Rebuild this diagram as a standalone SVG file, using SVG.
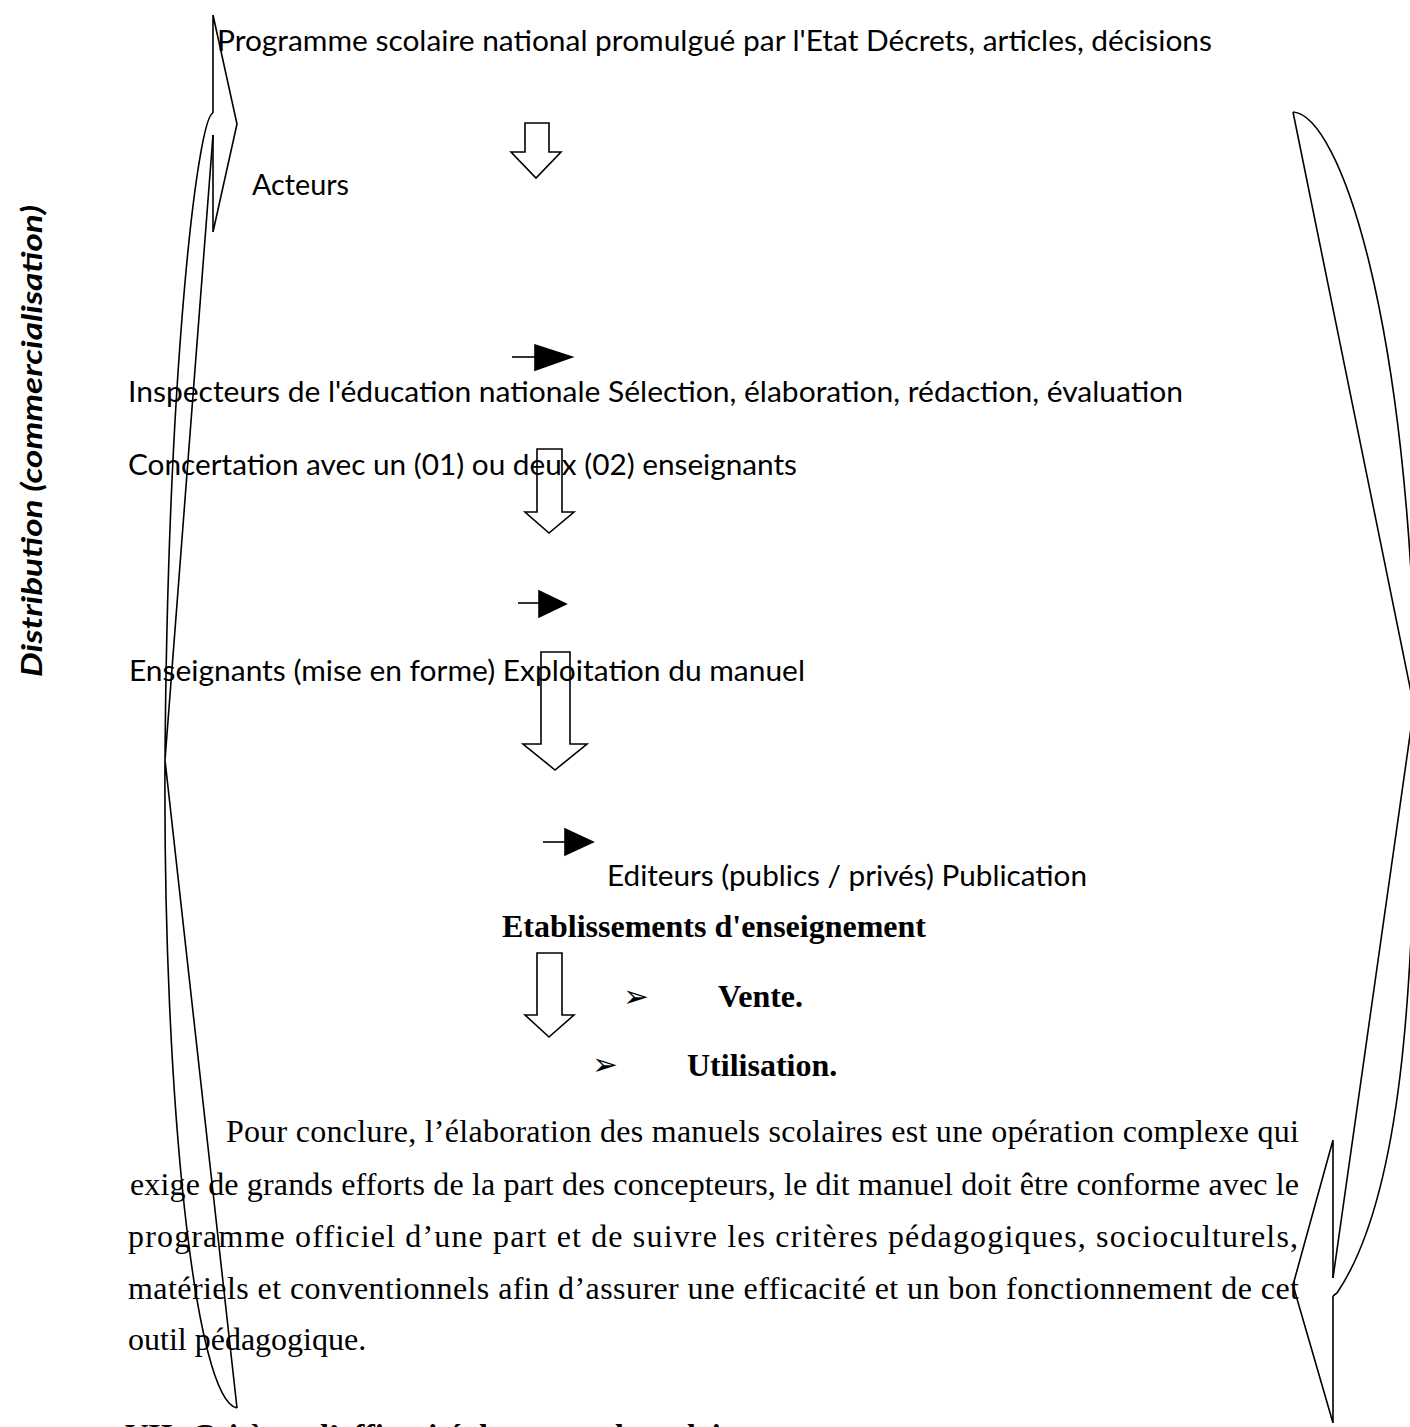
<svg xmlns="http://www.w3.org/2000/svg" width="1410" height="1427" viewBox="0 0 1410 1427">
<style>
.s{font-family:Lato,"Open Sans","Liberation Sans",sans-serif;font-size:28px;fill:#000}
.t{font-family:"Liberation Serif","Times New Roman",serif;font-size:32px;fill:#000}
.tb{font-family:"Liberation Serif","Times New Roman",serif;font-size:32px;font-weight:bold;fill:#000}
.bul{font-family:"DejaVu Sans",sans-serif;font-size:31px;fill:#000}
.ln{fill:none;stroke:#000;stroke-width:1.6;stroke-linejoin:miter}
.blk{fill:none;stroke:#000;stroke-width:1.6}
.sm{fill:#000;stroke:#000;stroke-width:1.6}
</style>
<rect width="1410" height="1427" fill="#fff"/>
<g id="braces">
<path class="ln" d="M213,15 L237,124 L213,232 M213,15 L213,113 M213,135 L213,232"/>
<path class="ln" d="M213,113 C198,117 168,360 165,760 C163,1100 195,1400 237,1408 M213,135 L165,760 L237,1408"/>
<path class="ln" d="M1293,112 L1414,707 L1333,1278 M1293,112 C1340,115 1410,320 1416,707 C1416,1000 1400,1200 1337,1293 L1333,1296"/>
<path class="ln" d="M1333,1140 L1293,1285 L1333,1423 M1333,1140 L1333,1278 M1333,1296 L1333,1423"/>
</g>
<g id="connectors">
<path class="blk" d="M525,123 L549,123 L549,152 L561,152 L536,178 L511,152 L525,152 Z"/>
<path class="blk" d="M537,449 L562,449 L562,512 L574,512 L549,533 L525,512 L537,512 Z"/>
<path class="blk" d="M541,652 L570,652 L570,744 L587,744 L555,770 L523,744 L541,744 Z"/>
<path class="blk" d="M537,953 L562,953 L562,1015 L574,1015 L549,1037 L525,1015 L537,1015 Z"/>
<path class="ln" d="M512,357 L535,357"/>
<polygon class="sm" points="535,345 572,357 535,370"/>
<path class="ln" d="M518,603 L539,603"/>
<polygon class="sm" points="539,591 566,604 539,617"/>
<path class="ln" d="M543,842 L565,842"/>
<polygon class="sm" points="565,829 593,842 565,855"/>
</g>
<g id="n-programme"><text class="s" x="217" y="51" textLength="995" lengthAdjust="spacingAndGlyphs">Programme scolaire national promulgué par l'Etat Décrets, articles, décisions</text></g>
<g id="n-acteurs"><text class="s" x="252" y="195" textLength="97" lengthAdjust="spacingAndGlyphs">Acteurs</text></g>
<g id="n-inspecteurs"><text class="s" x="128" y="402" textLength="1055" lengthAdjust="spacingAndGlyphs">Inspecteurs de l'éducation nationale Sélection, élaboration, rédaction, évaluation</text></g>
<g id="n-concertation"><text class="s" x="128" y="475" textLength="669" lengthAdjust="spacingAndGlyphs">Concertation avec un (01) ou deux (02) enseignants</text></g>
<g id="n-enseignants"><text class="s" x="129" y="681" textLength="676" lengthAdjust="spacingAndGlyphs">Enseignants (mise en forme) Exploitation du manuel</text></g>
<g id="n-editeurs"><text class="s" x="607" y="886" textLength="480" lengthAdjust="spacingAndGlyphs">Editeurs (publics / privés) Publication</text></g>
<g id="n-etablissements"><text class="tb" x="502" y="937">Etablissements d'enseignement</text></g>
<g id="n-vente"><text class="bul" x="623" y="1007">➢</text><text class="tb" x="718" y="1007">Vente.</text></g>
<g id="n-utilisation"><text class="bul" x="592" y="1075">➢</text><text class="tb" x="687" y="1076">Utilisation.</text></g>
<g id="n-distribution"><text class="s" style="font-weight:bold;font-style:italic" transform="translate(42,677) rotate(-90)" x="0" y="0" textLength="472" lengthAdjust="spacingAndGlyphs">Distribution (commercialisation)</text></g>
<g id="paragraph">
<text class="t" x="226" y="1142" textLength="1073" lengthAdjust="spacing">Pour conclure, l’élaboration des manuels scolaires est une opération complexe qui</text>
<text class="t" x="130" y="1195" textLength="1169" lengthAdjust="spacing">exige  de grands efforts de la part des concepteurs, le dit manuel doit être conforme avec le</text>
<text class="t" x="128" y="1247" textLength="1170" lengthAdjust="spacing">programme officiel d’une part et de suivre les critères pédagogiques, socioculturels,</text>
<text class="t" x="128" y="1299" textLength="1171" lengthAdjust="spacing">matériels et conventionnels afin d’assurer une efficacité et un bon fonctionnement de cet</text>
<text class="t" x="128" y="1350">outil pédagogique.</text>
<text class="tb" x="125" y="1446">VII-   Critères   d’efficacité   des manuels scolaires</text>
</g>
</svg>
